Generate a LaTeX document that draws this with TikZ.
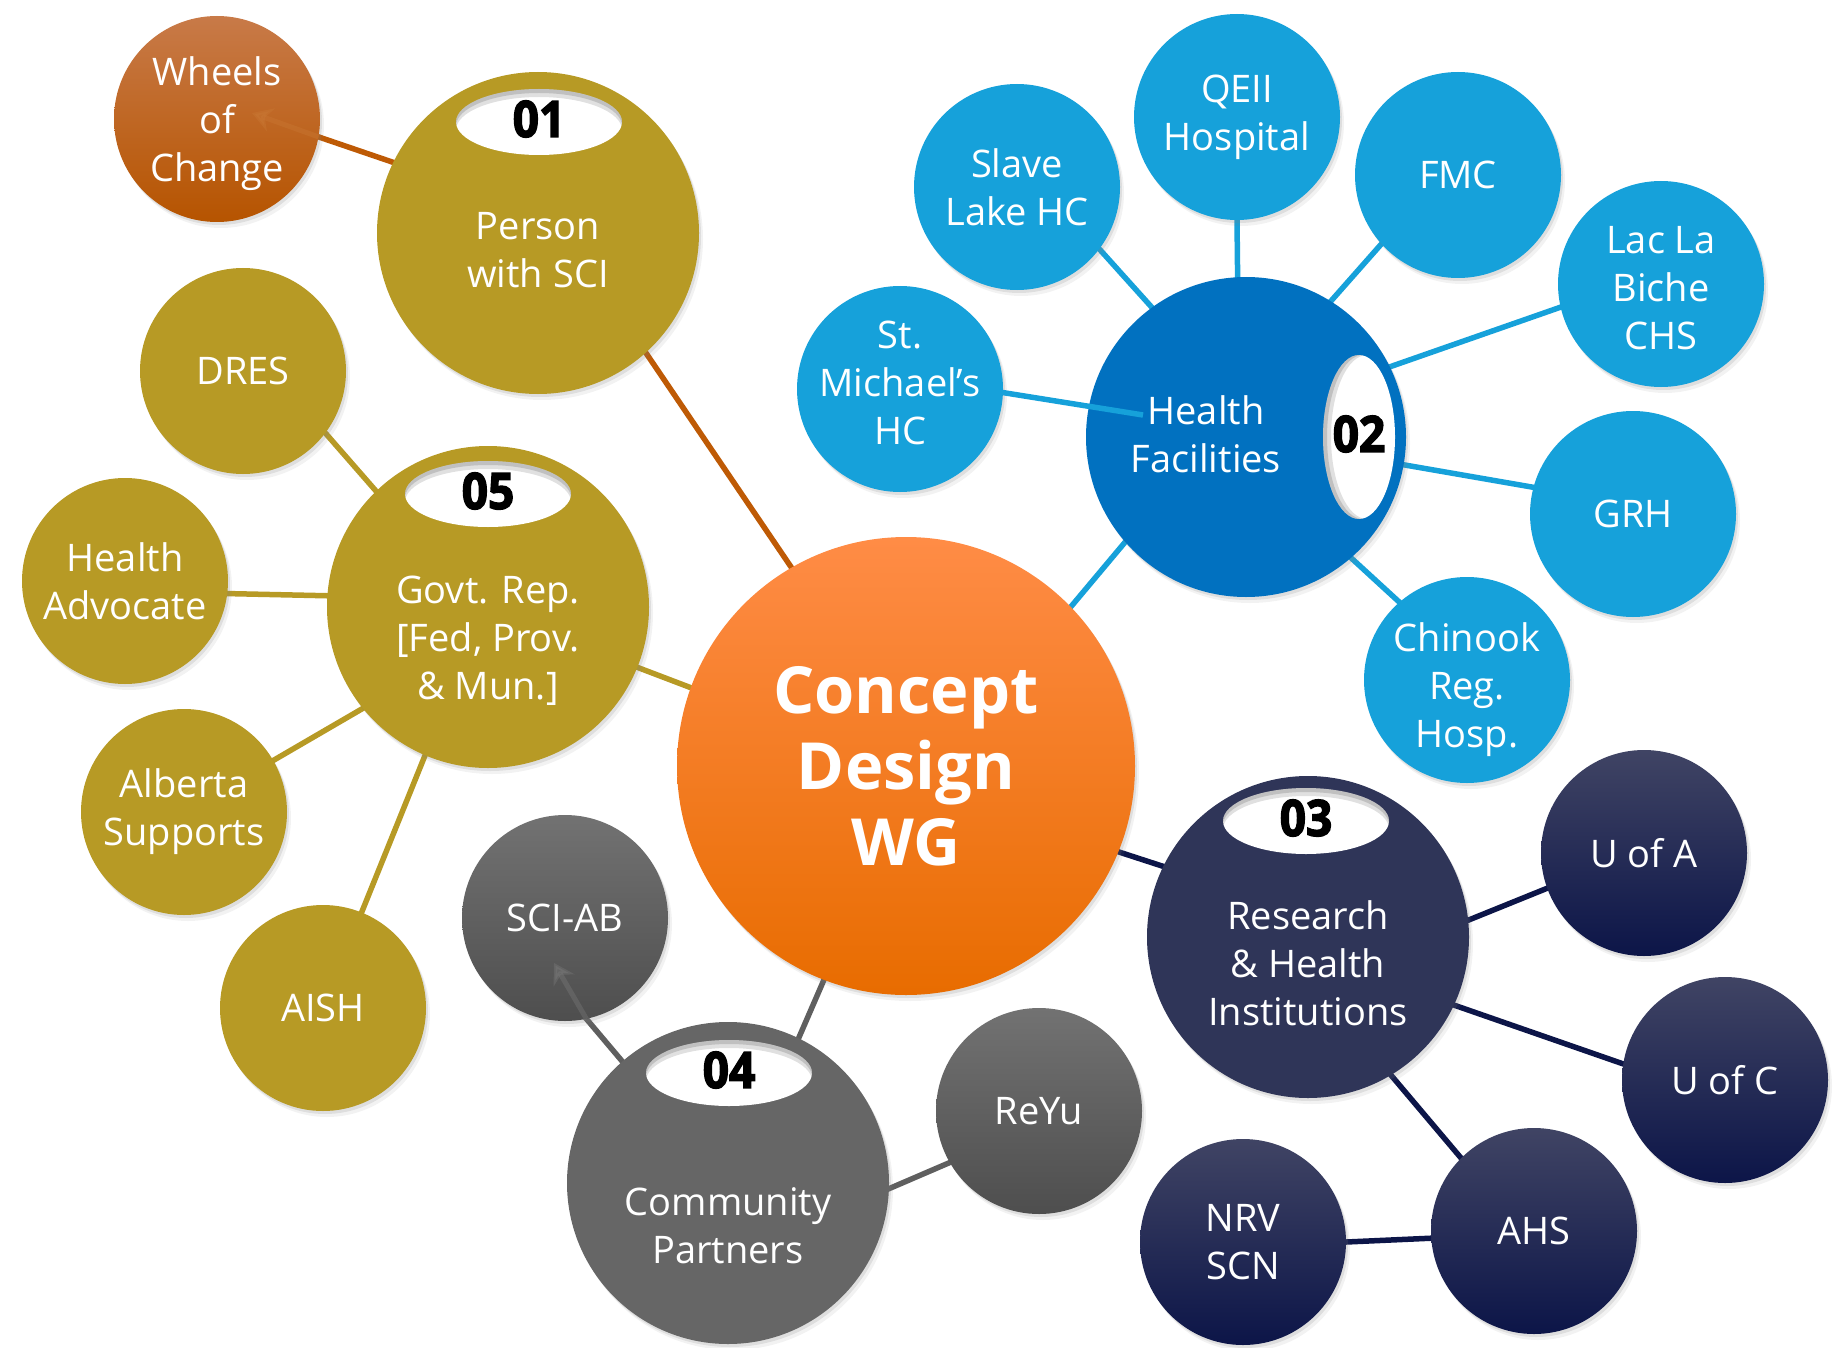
\documentclass[tikz,border=0pt]{standalone}
\usepackage{fontspec}
\setmainfont{Open Sans}
\newfontfamily\numfont{Open Sans}[BoldFeatures={FakeBold=3}]
\usepackage{graphicx}
\usetikzlibrary{shadows,calc,arrows.meta}
\pgfdeclarelayer{background}
\pgfsetlayers{background,main}

\definecolor{gold}{RGB}{183,154,37}
\definecolor{rust}{RGB}{190,90,5}
\definecolor{rusttop}{RGB}{200,122,72}
\definecolor{rustbot}{RGB}{182,84,0}
\definecolor{sky}{RGB}{22,161,218}
\definecolor{hfblue}{RGB}{1,113,192}
\definecolor{navybig}{RGB}{47,53,88}
\definecolor{navytop}{RGB}{64,68,100}
\definecolor{navy}{RGB}{12,21,72}
\definecolor{grayline}{RGB}{95,95,95}
\definecolor{commgray}{RGB}{102,102,102}
\definecolor{graytop}{RGB}{114,114,114}
\definecolor{graybot}{RGB}{78,78,78}
\definecolor{orangetop}{RGB}{255,140,70}
\definecolor{orangemid}{RGB}{255,125,0}
\definecolor{orangebot}{RGB}{232,108,0}

% white badge hole with a soft inner shadow: name, centre, rx, ry, shadow offset, number
\newcommand\holebadge[6]{%
  \fill[white] (#2) ellipse [x radius=#3, y radius=#4];
  \begin{scope}
    \clip (#2) ellipse [x radius=#3, y radius=#4];
    \fill[black, opacity=0.12, even odd rule]
      (#2) ellipse [x radius=#3+14, y radius=#4+14]
      ($(#2)+2*(#5)$) ellipse [x radius=#3, y radius=#4];
    \fill[black, opacity=0.14, even odd rule]
      (#2) ellipse [x radius=#3+14, y radius=#4+14]
      ($(#2)+(#5)$) ellipse [x radius=#3, y radius=#4];
  \end{scope}
  \node[numtxt] (#1) at (#2) {\scalebox{0.92}[1]{#6}};
}

\tikzset{
  soft shadow/.style={
    drop shadow={shadow xshift=2pt, shadow yshift=-3pt, opacity=0.18},
    drop shadow={shadow xshift=4pt, shadow yshift=-6pt, opacity=0.10}},
  bubble/.style={circle, inner sep=0pt, draw=none, soft shadow,
    text=white, align=center, font=\fontsize{38}{48}\selectfont},
  small/.style={bubble, minimum size=206pt},
  big/.style={bubble, minimum size=322pt},
  bigtext/.style={text=white, align=center, inner sep=0pt,
    font=\fontsize{38}{48}\selectfont},
  wheel fill/.style={top color=rusttop, middle color=rust, bottom color=rustbot},
  navy fill/.style={top color=navytop, middle color=navy, bottom color=navy},
  gray fill/.style={top color=graytop, bottom color=graybot},
  core fill/.style={top color=orangetop, middle color=orangemid, bottom color=orangebot},
  link/.style={line width=5.5pt, shorten <=-10pt, shorten >=-10pt},
  numtxt/.style={text=black, inner sep=0pt, yshift=3pt,
    font=\numfont\bfseries\fontsize{50}{50}\selectfont},
}

\begin{document}
\begin{tikzpicture}[x=1pt, y=-1pt]
\useasboundingbox (0,0) rectangle (1833,1348);

% ---- central hub
\node[bubble, core fill, minimum size=458pt,
      font=\bfseries\fontsize{65}{76}\selectfont] (concept) at (906,766)
      {Concept\\Design\\WG};

% ---- 01 person
\node[small, wheel fill] (wheels) at (217,119) {};
\node[bigtext] (wheels-t) at (217,124) {Wheels\\of\\Change};
\node[big, fill=gold] (person) at (538,233) {};
\node[bigtext] (person-t) at (538,250) {Person\\with SCI};
\holebadge{n01}{539,122}{83}{33}{0,4}{01}

% ---- 05 government
\node[small, fill=gold] (dres) at (243,371) {DRES};
\node[small, fill=gold] (ha) at (125,581) {Health\\Advocate};
\node[small, fill=gold] (alberta) at (184,812) {Alberta\\Supports};
\node[small, fill=gold] (aish) at (323,1008) {AISH};
\node[big, fill=gold] (govt) at (488,607) {};
\node[bigtext] (govt-t) at (488,641) {Govt. Rep.\\{[}Fed, Prov.\\\& Mun.{]}};
\holebadge{n05}{488,494}{83}{33}{0,4}{05}

% ---- 04 community
\node[small, gray fill] (sciab) at (565,918) {SCI-AB};
\node[small, gray fill] (reyu) at (1039,1111) {ReYu};
\node[big, fill=commgray] (comm) at (728,1183) {};
\node[bigtext] (comm-t) at (728,1226) {Community\\Partners};
\holebadge{n04}{729,1073}{83}{33}{0,4}{04}

% ---- 03 research
\node[small, navy fill] (ua) at (1644,853) {U of A};
\node[small, navy fill] (uc) at (1725,1080) {U of C};
\node[small, navy fill] (ahs) at (1534,1231) {AHS};
\node[small, navy fill] (nrv) at (1243,1242) {NRV\\SCN};
\node[big, fill=navybig] (research) at (1308,937) {};
\node[bigtext] (research-t) at (1308,963) {Research\\\& Health\\Institutions};
\holebadge{n03}{1306,821}{83}{33}{0,4}{03}

% ---- 02 health facilities
\node[small, fill=sky] (stm) at (900,389) {};
\node[bigtext] (stm-t) at (900,383) {St.\\Michael’s\\HC};
\node[small, fill=sky] (slave) at (1017,187) {Slave\\Lake HC};
\node[small, fill=sky] (qeii) at (1237,117) {QEII\\Hospital};
\node[small, fill=sky] (fmc) at (1458,175) {FMC};
\node[small, fill=sky] (llb) at (1661,284) {};
\node[bigtext] (llb-t) at (1661,288) {Lac La\\Biche\\CHS};
\node[small, fill=sky] (grh) at (1633,514) {GRH};
\node[small, fill=sky] (chinook) at (1467,680) {};
\node[bigtext] (chinook-t) at (1467,690) {Chinook\\Reg.\\Hosp.};
\node[bubble, fill=hfblue, minimum size=320pt] (hf) at (1246,437) {};
\node[bigtext] (hf-t) at (1206,434) {Health\\Facilities};
\holebadge{n02}{1359,437}{36}{82}{4,0}{02}

% ---- connectors, behind the bubbles
\begin{pgfonlayer}{background}
  \draw[link, rust] (person.154) -- (wheels.-10);
  \draw[link, rust] (person.-48) -- (concept.120);
  \draw[link, gold] (govt.-22.5) -- (concept.160);
  \draw[link, gold] (govt.134.5) -- (dres.-37.6);
  \draw[link, gold] (govt.176.8) -- (ha.-7);
  \draw[link, gold] (govt.219.5) -- (alberta.30.7);
  \draw[link, gold] (govt.247) -- (aish.68.3);
  \draw[link, grayline] (comm.131) -- (sciab.-78);
  \draw[link, grayline] (comm.64.4) -- (concept.249.1);
  \draw[link, grayline] (comm.-2.8) -- (reyu.210.5);
  \draw[link, navy] (concept.-22.2) -- (research.154.9);
  \draw[link, navy] (research.6) -- (ua.200.8);
  \draw[link, navy] (research.-25.8) -- (uc.171.6);
  \draw[link, navy] (research.-59.6) -- (ahs.135);
  \draw[link, navy] (nrv.0.5) -- (ahs.184.4);
  \draw[link, sky] (concept.44.8) -- (hf.221.9);
  \draw[link, sky] (hf.126.9) -- (slave.-37.7);
  \draw[link, sky] (hf.93.2) -- (qeii.-90);
  \draw[link, sky] (hf.58.2) -- (fmc.222.3);
  \draw[link, sky] (hf.26.2) -- (llb.193.6);
  \draw[link, sky] (hf.-10) -- (grh.165.6);
  \draw[link, sky] (hf.-49.8) -- (chinook.131.2);
\end{pgfonlayer}

% St. Michael's link runs over the hub disc up to the caption
\coordinate (hf-in) at (1143,415);
\draw[link, sky, shorten >=0pt] (stm.-2.2) -- (hf-in);

% faint arrow heads left over inside two bubbles
\coordinate (wheels-tip) at (252,113);
\draw[line width=5pt, rust!80!white, opacity=0.35,
      -{Stealth[length=20pt, width=24pt]}] (wheels.-10) -- (wheels-tip);
\coordinate (sciab-tip) at (554,963);
\draw[line width=5pt, grayline!80!white, opacity=0.35,
      -{Stealth[length=20pt, width=24pt]}] (sciab.-78) -- (sciab-tip);
\end{tikzpicture}
\end{document}
